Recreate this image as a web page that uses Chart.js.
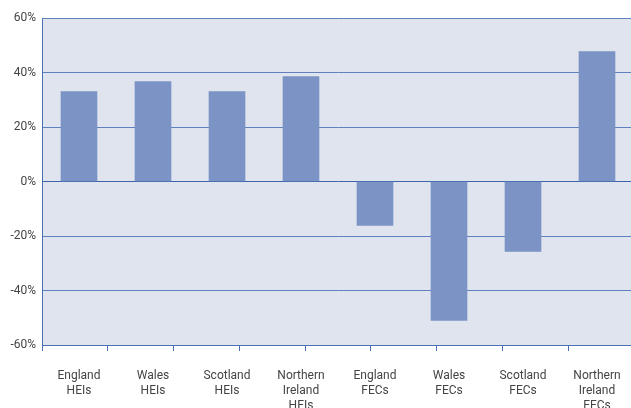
<!DOCTYPE html>
<html>
<head>
<meta charset="utf-8">
<script src="https://cdn.jsdelivr.net/npm/chart.js@4/dist/chart.umd.min.js"></script>
<style>
  html, body { margin: 0; padding: 0; background: #fff; overflow: hidden; }
  #wrap { width: 640px; height: 408px; }
</style>
</head>
<body>
<div id="wrap"><canvas id="growthChart" width="640" height="408"></canvas></div>
<script>
const categories = [
    ['England', 'HEIs'], ['Wales', 'HEIs'], ['Scotland', 'HEIs'], ['Northern', 'Ireland', 'HEIs'],
    ['England', 'FECs'], ['Wales', 'FECs'], ['Scotland', 'FECs'], ['Northern', 'Ireland', 'FECs']
];
const changeValues = [33.0, 36.7, 33.0, 38.5, -16.1, -51.0, -25.7, 47.7];
const yTicks = [-60, -40, -20, 0, 20, 40, 60];
// the source draws its tick marks on a 9-step spacing, not on the bar slots
const tickSlots = ['', '', '', '', '', '', '', '', ''];

const plotBackground = {
    id: 'plotBackground',
    beforeDraw(chart) {
        const a = chart.chartArea;
        const c = chart.ctx;
        c.save();
        c.fillStyle = '#dfe4ef';
        c.fillRect(a.left, a.top, a.right - a.left, a.bottom - a.top);
        c.restore();
    }
};

const ctx = document.getElementById('growthChart');

new Chart(ctx, {
    type: 'bar',
    data: {
        labels: categories,
        datasets: [{
            data: changeValues,
            backgroundColor: '#7b94c5',
            borderWidth: 0,
            barThickness: 36
        }]
    },
    options: {
        responsive: false,
        animation: false,
        layout: { padding: { top: 18, right: 6, left: 0, bottom: 0 } },
        plugins: {
            legend: { display: false },
            tooltip: { enabled: false },
            title: { display: false }
        },
        scales: {
            x: {
                weight: 1,
                grid: { display: false },
                border: { display: false },
                ticks: {
                    color: '#444',
                    font: { family: 'Roboto', size: 12, lineHeight: '15px' },
                    padding: 9,
                    maxRotation: 0,
                    autoSkip: false
                },
                afterFit: scale => { scale.height = 57; }
            },
            x2: {
                type: 'category',
                position: 'bottom',
                weight: 0,
                labels: tickSlots,
                offset: true,
                grid: {
                    offset: true,
                    drawOnChartArea: false,
                    drawTicks: true,
                    tickLength: 6,
                    color: '#4a6fb3'
                },
                border: { display: true, color: '#4a6fb3', width: 1 },
                ticks: { display: false },
                afterFit: scale => { scale.height = 6; }
            },
            y: {
                min: -60,
                max: 60,
                afterBuildTicks: scale => { scale.ticks = yTicks.map(v => ({ value: v })); },
                grid: {
                    drawTicks: false,
                    color: ctx => ctx.tick && ctx.tick.value === 0 ? '#3d64aa' : '#5f80bd',
                    lineWidth: 1
                },
                border: { display: true, color: '#4a6fb3', width: 1 },
                ticks: {
                    color: '#444',
                    font: { family: 'Roboto', size: 12 },
                    padding: 6,
                    callback: v => v + '%'
                },
                afterFit: scale => { scale.width = 42; }
            }
        }
    },
    plugins: [plotBackground]
});
</script>
</body>
</html>
